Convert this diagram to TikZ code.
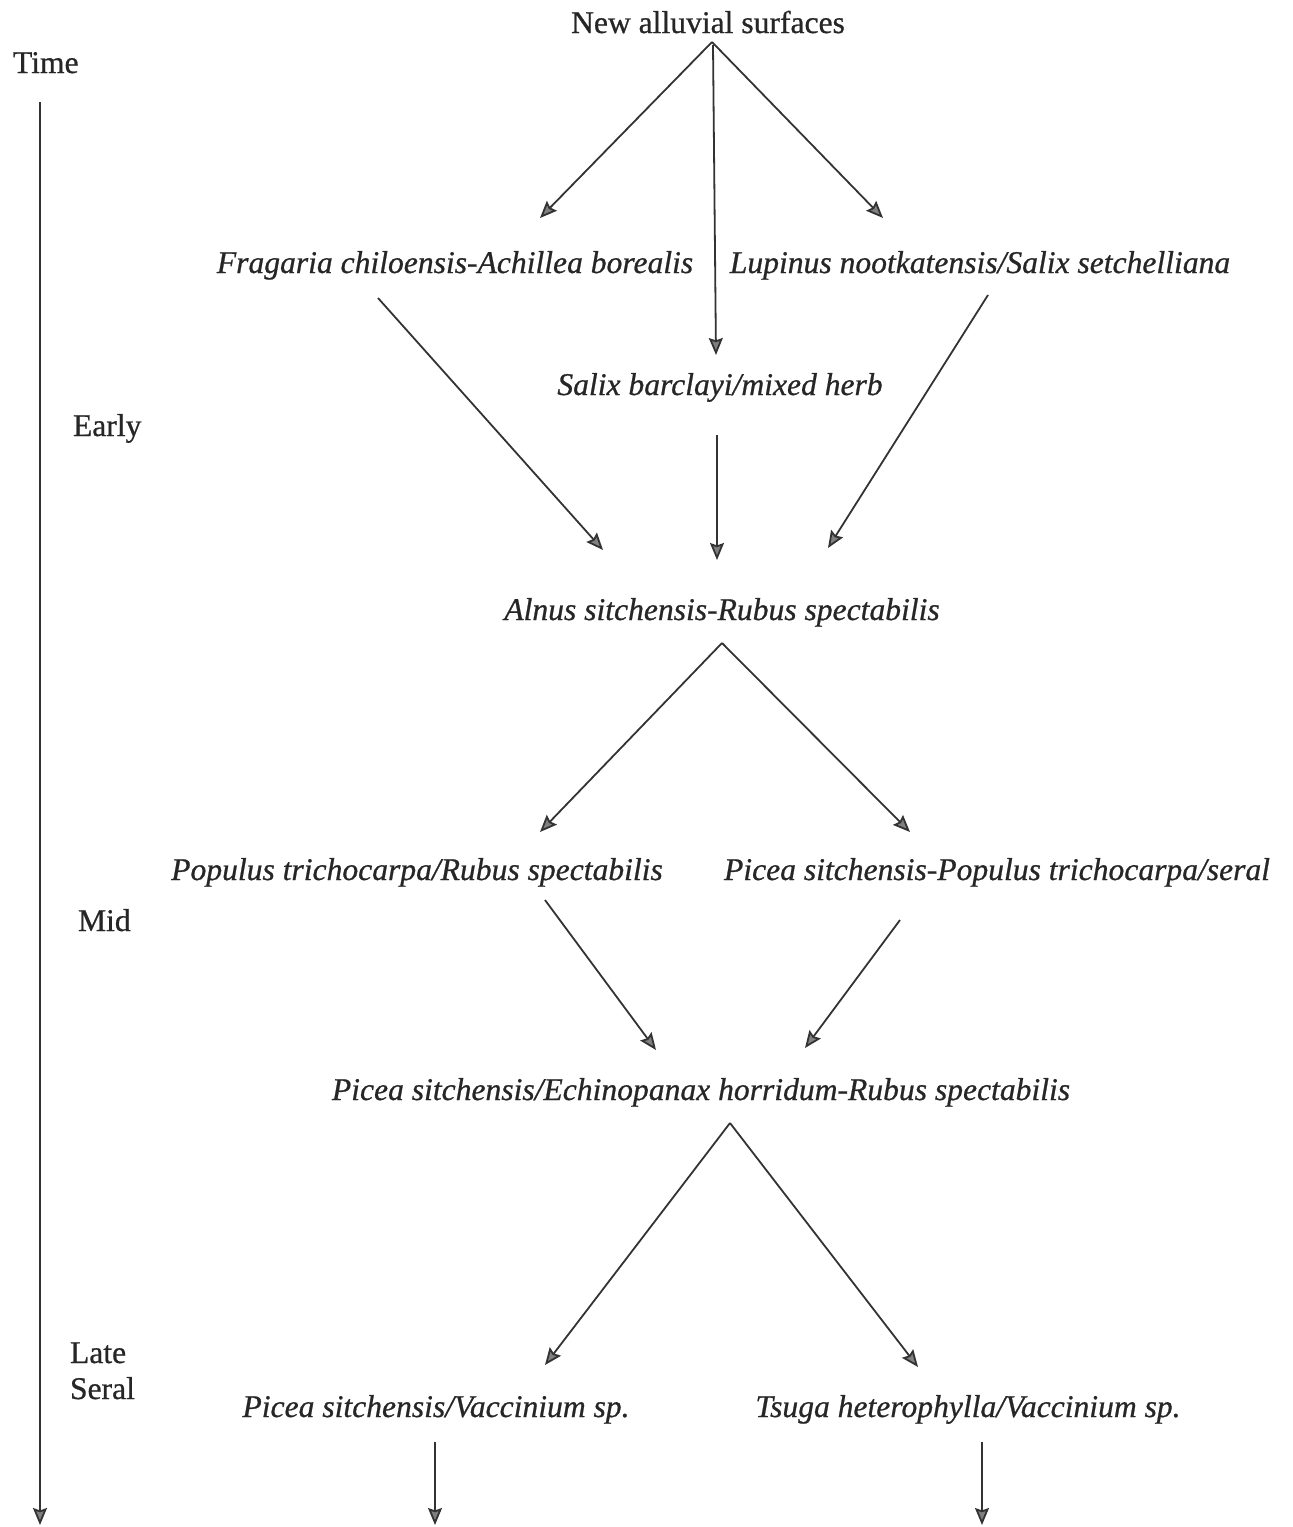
\documentclass[tikz,border=0pt]{standalone}
\usepackage{fontspec}
\setmainfont{Liberation Serif}[FakeBold=0.7]
\usetikzlibrary{arrows.meta,calc}
\begin{document}
\begin{tikzpicture}[x=0.5pt,y=-0.5pt,
  every node/.style={inner sep=0pt,outer sep=0pt,text=black!85,font=\fontsize{15.8}{19}\selectfont},
  community/.style={anchor=base,font=\fontsize{15.8}{19}\selectfont\itshape},
  stage/.style={anchor=base west},
  arr/.style={draw=black!80,line width=0.9pt,
    -{Stealth[length=8.5pt,width=7pt,inset=1.2pt,fill=black!50]}}]
\useasboundingbox (0,0) rectangle (1292,1527);

% time axis and stage labels
\node[stage] (time) at (13,73) {Time};
\node[stage] (early) at (73,436) {Early};
\node[stage] (mid) at (78,931) {Mid};
\node[stage] (late) at (70,1363) {Late};
\node[stage] (seral) at (70,1399) {Seral};
\coordinate (timeend) at (40,1525);
\draw[arr] ($(time.base west)+(27,29)$) -- (timeend);

% communities
\node[anchor=base] (new) at (708,33) {New alluvial surfaces};
\node[community] (frag) at (455,273) {Fragaria chiloensis-Achillea borealis};
\node[community] (lup) at (980,273) {Lupinus nootkatensis/Salix setchelliana};
\node[community] (salix) at (720,395) {Salix barclayi/mixed herb};
\node[community] (alnus) at (722,620) {Alnus sitchensis-Rubus spectabilis};
\node[community] (pop) at (417,880) {Populus trichocarpa/Rubus spectabilis};
\node[community] (picpop) at (997,880) {Picea sitchensis-Populus trichocarpa/seral};
\node[community] (echin) at (701,1100) {Picea sitchensis/Echinopanax horridum-Rubus spectabilis};
\node[community] (pv) at (436,1417) {Picea sitchensis/Vaccinium sp.};
\node[community] (ts) at (968,1417) {Tsuga heterophylla/Vaccinium sp.};
\coordinate (pvend) at (435,1525);
\coordinate (tsend) at (982,1525);

% successional pathways
\draw[arr] ($(new.base)+(4,9)$) -- ($(frag.base)+(85,-55)$);
\draw[arr] ($(new.base)+(5,12)$) -- ($(salix.base)+(-4,-40)$);
\draw[arr] ($(new.base)+(4,9)$) -- ($(lup.base)+(-97,-55)$);

\draw[arr] ($(frag.base)+(-77,25)$) -- ($(alnus.base)+(-119,-70)$);
\draw[arr] ($(salix.base)+(-3,40)$) -- ($(alnus.base)+(-5,-60)$);
\draw[arr] ($(lup.base)+(8,22)$) -- ($(alnus.base)+(106,-72)$);

\draw[arr] ($(alnus.base)+(0,23)$) -- ($(pop.base)+(123,-48)$);
\draw[arr] ($(alnus.base)+(0,23)$) -- ($(picpop.base)+(-87,-48)$);

\draw[arr] ($(pop.base)+(128,20)$) -- ($(echin.base)+(-45,-50)$);
\draw[arr] ($(picpop.base)+(-97,40)$) -- ($(echin.base)+(104,-52)$);

\draw[arr] ($(echin.base)+(29,23)$) -- ($(pv.base)+(109,-52)$);
\draw[arr] ($(echin.base)+(29,23)$) -- ($(ts.base)+(-50,-50)$);

\draw[arr] ($(pv.base)+(-1,25)$) -- (pvend);
\draw[arr] ($(ts.base)+(14,25)$) -- (tsend);
\end{tikzpicture}
\end{document}
